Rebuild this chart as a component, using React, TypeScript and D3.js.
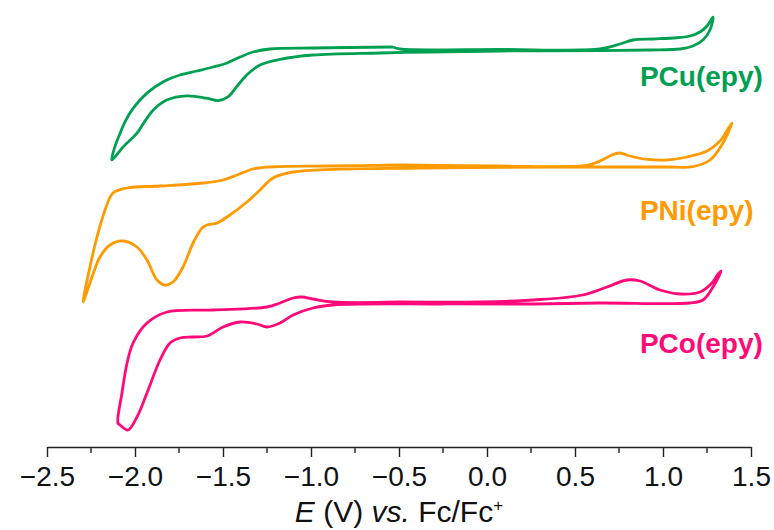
import React, { useEffect, useRef } from 'react';
import * as d3 from 'd3';

// cyclic voltammograms: [E (V vs Fc/Fc+), current (a.u., traces offset)]
const pcuLoop: [number, number][] = [
  [-0.534, 100], [-0.494, 99.5], [0.074, 99.4], [0.642, 99.5], [0.756, 100.75],
  [0.83, 101.75], [0.943, 102], [1.057, 102.25], [1.153, 102.75], [1.21, 103.75],
  [1.25, 105.25], [1.284, 107.5], [1.267, 104.25], [1.227, 101.75], [1.17, 100.25],
  [1.097, 99.5], [0.926, 99.25], [0.642, 99.1], [0.074, 99], [-0.324, 98.75],
  [-0.608, 98.5], [-0.989, 98], [-1.176, 96.9], [-1.29, 95.5], [-1.365, 93],
  [-1.422, 90.1], [-1.47, 87.6], [-1.527, 86.6], [-1.593, 87.2], [-1.706, 87.8],
  [-1.82, 86.75], [-1.896, 84.25], [-1.952, 80.9], [-1.99, 78.4], [-2.066, 75.1],
  [-2.132, 71.75], [-2.114, 75.1], [-2.085, 78.4], [-2.057, 81.3], [-2.01, 84.7],
  [-1.934, 88.4], [-1.839, 91.3], [-1.744, 93], [-1.648, 94], [-1.557, 95],
  [-1.477, 96], [-1.403, 97.5], [-1.33, 98.75], [-1.233, 99.5], [-0.989, 99.75],
  [-0.534, 100],
];

const pniLoop: [number, number][] = [
  [-0.494, 70.5], [0.074, 70.25], [0.568, 70.4], [0.642, 71.5], [0.716, 73.1],
  [0.756, 73.5], [0.813, 72.75], [0.909, 71.9], [1.023, 71.75], [1.136, 72.5],
  [1.25, 74], [1.324, 76.5], [1.369, 79.5], [1.392, 81], [1.341, 76],
  [1.267, 71.75], [1.17, 70.1], [1.023, 70], [0.642, 70], [0.074, 69.9],
  [-0.381, 69.75], [-1.102, 68.75], [-1.216, 67.25], [-1.29, 64.25], [-1.364, 61.25],
  [-1.477, 57.5], [-1.534, 56], [-1.591, 55.5], [-1.619, 54.75], [-1.67, 51],
  [-1.727, 45], [-1.784, 41.25], [-1.83, 40.5], [-1.875, 41.75], [-1.932, 46.75],
  [-1.989, 50], [-2.068, 51.5], [-2.142, 50.5], [-2.199, 47.5], [-2.244, 42.5],
  [-2.295, 36.25], [-2.256, 45], [-2.216, 52.5], [-2.17, 59.25], [-2.125, 63.5],
  [-2.045, 64.75], [-1.858, 65.25], [-1.614, 66], [-1.5, 66.75], [-1.42, 68],
  [-1.33, 69.5], [-1.233, 70], [-0.909, 70.25], [-0.494, 70.5],
];

const pcoLoop: [number, number][] = [
  [-0.494, 36.25], [-0.04, 36.25], [0.261, 36.75], [0.545, 38], [0.682, 40],
  [0.795, 41.75], [0.869, 41.5], [0.983, 39.25], [1.097, 38.25], [1.21, 38.75],
  [1.278, 41], [1.313, 43.25], [1.33, 44], [1.284, 40], [1.227, 36.75],
  [1.153, 36], [0.642, 36], [0.261, 35.75], [-0.267, 35.75], [-0.875, 35.5],
  [-0.989, 34.75], [-1.102, 33], [-1.176, 31], [-1.25, 30], [-1.307, 30.75],
  [-1.403, 31.25], [-1.5, 30], [-1.591, 27.75], [-1.67, 27.5], [-1.744, 27.25],
  [-1.801, 26], [-1.858, 21.75], [-1.932, 13.5], [-1.989, 7.5], [-2.04, 4.25],
  [-2.085, 5.5], [-2.097, 6], [-2.074, 13.5], [-2.045, 21], [-2.011, 26],
  [-1.932, 31], [-1.818, 33.75], [-1.557, 34.25], [-1.25, 35], [-1.176, 36],
  [-1.102, 37.25], [-1.051, 37.5], [-0.989, 37], [-0.875, 36.25], [-0.494, 36.25],
];

const traceNames = ['PCu(epy)', 'PNi(epy)', 'PCo(epy)'];
const traceColors = ['#00a052', '#ff9a00', '#ff0a78'];
const xTicks = [-2.5, -2.0, -1.5, -1.0, -0.5, 0.0, 0.5, 1.0, 1.5];
const xMinorTicks = [-2.25, -1.75, -1.25, -0.75, -0.25, 0.25, 0.75, 1.25];

const App = () => {
  const ref = useRef<SVGSVGElement>(null);

  useEffect(() => {
    const svg = d3.select(ref.current);
    svg.selectAll('*').remove();

    const font = 'Liberation Sans, Arial, sans-serif';

    // scales
    const x = d3.scaleLinear().domain([-2.5, 1.5]).range([47, 751]);
    const y = d3.scaleLinear().domain([0, 110]).range([447, 7]);

    const line = d3
      .line<[number, number]>()
      .x((d) => x(d[0]))
      .y((d) => y(d[1]))
      .curve(d3.curveCatmullRom.alpha(0.5));

    const loops = [pcuLoop, pniLoop, pcoLoop];
    // label anchors (E, current)
    const labelPos = [[0.869, 90.25], [0.869, 56.75], [0.869, 23.5]];

    loops.forEach((loop, i) => {
      svg
        .append('path')
        .attr('d', line(loop))
        .attr('fill', 'none')
        .attr('stroke', traceColors[i])
        .attr('stroke-width', 2.8)
        .attr('stroke-linejoin', 'round');

      svg
        .append('text')
        .attr('x', x(labelPos[i][0]))
        .attr('y', y(labelPos[i][1]))
        .attr('fill', traceColors[i])
        .style('font-family', font)
        .style('font-weight', 'bold')
        .style('font-size', '28px')
        .text(traceNames[i]);
    });

    // x axis
    const axis = svg.append('g').attr('transform', `translate(0, ${y(0)})`);
    axis
      .call(
        d3
          .axisBottom(x)
          .tickValues(xTicks)
          .tickSize(10)
          .tickSizeOuter(0)
          .tickPadding(9)
          .tickFormat(d3.format('.1f'))
      )
      .call((g) => g.select('.domain').attr('stroke', '#222').attr('stroke-width', 1.4))
      .call((g) => g.selectAll('.tick line').attr('stroke', '#222').attr('stroke-width', 1.4))
      .call((g) =>
        g
          .selectAll('.tick text')
          .attr('fill', '#111')
          .style('font-family', font)
          .style('font-size', '28px')
      );

    axis
      .selectAll('.minor')
      .data(xMinorTicks)
      .enter()
      .append('line')
      .attr('class', 'minor')
      .attr('x1', (d) => x(d))
      .attr('x2', (d) => x(d))
      .attr('y1', 0)
      .attr('y2', 6)
      .attr('stroke', '#222')
      .attr('stroke-width', 1.4);

    // axis title
    const title = svg
      .append('text')
      .attr('x', (x(-2.5) + x(1.5)) / 2)
      .attr('y', 522)
      .attr('text-anchor', 'middle')
      .attr('fill', '#111')
      .style('font-family', font)
      .style('font-size', '30px');
    title.append('tspan').style('font-style', 'italic').text('E');
    title.append('tspan').text(' (V) ');
    title.append('tspan').style('font-style', 'italic').text('vs.');
    title.append('tspan').text(' Fc/Fc');
    title.append('tspan').attr('dy', -11).style('font-size', '17px').text('+');
  }, []);

  return (
    <div className="chart">
      <svg
        ref={ref}
        width="774"
        height="530"
        style={{ position: 'absolute', left: 0, top: 0, background: '#fff' }}
      ></svg>
    </div>
  );
};

export default App;
